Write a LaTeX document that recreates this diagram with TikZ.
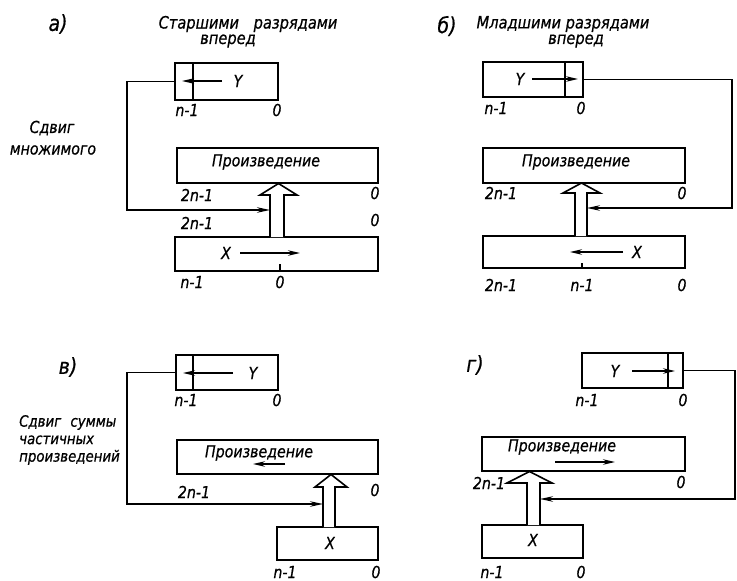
\documentclass[tikz,border=0pt]{standalone}
\usepackage{fontspec}
\setmainfont{DejaVu Sans}[FakeStretch=0.86,FakeBold=0.6]
\usetikzlibrary{arrows.meta,calc}

\tikzset{
  reg/.style={draw, line width=1.8pt, inner sep=0pt, outer sep=0pt},
  divider/.style={line width=1.6pt},
  lbl/.style={font=\fontsize{16.5}{16.5}\selectfont\itshape, inner sep=0pt},
  ttl/.style={font=\fontsize{17}{17}\selectfont\itshape, inner sep=0pt},
  paneltag/.style={font=\fontsize{22}{22}\selectfont\itshape, inner sep=0pt},
  wire/.style={line width=1.4pt},
  flow/.style={wire, -{Stealth[length=13pt,width=5.5pt]}},
  mover/.style={line width=1.4pt, -{Stealth[length=12pt,width=5.5pt]}},
  fat/.style={line width=1.6pt, fill=white, line join=miter},
}

\begin{document}
\begin{tikzpicture}[x=1pt,y=-1pt]
\useasboundingbox (0,0) rectangle (737,581);

% ---------------- a) ----------------
\node[paneltag] (tagA) at (58,24) {а)};
\node[ttl] (tA1) at (248,24) {Старшими\hspace{10pt} разрядами};
\node[ttl] (tA2) at (228,41) {вперед};

\node[reg, minimum width=103pt, minimum height=37pt] (ya) at (226.5,81.5) {};
\draw[divider] (193,63) -- (193,100);
\node[lbl] (yaY) at (238,81) {Y};
\draw[mover] (222,81) -- (182,81);
\node[lbl] (ya1) at (187,110) {n-1};
\node[lbl] (ya0) at (277,110) {0};

\node[reg, minimum width=201pt, minimum height=35pt] (pa) at (277.5,165.5) {};
\node[lbl] (paT) at (266,162) {Произведение};
\node[lbl] (pa1) at (197,195) {2n-1};
\node[lbl] (pa0) at (375,193) {0};

\node[lbl] (sa1) at (52,128) {Сдвиг};
\node[lbl] (sa2) at (53,150) {множимого};

\node[lbl] (ma1) at (197,223) {2n-1};
\node[lbl] (ma0) at (375,220) {0};

\node[reg, minimum width=203pt, minimum height=34pt] (xa) at (276.5,254) {};
\node[lbl] (xaX) at (226,253) {X};
\draw[mover] (240,253) -- (300,253);
\draw[wire] (280,264) -- (280,271);
\node[lbl] (xa1) at (192,282) {n-1};
\node[lbl] (xa0) at (280,282) {0};

\draw[fat] (270,237) -- (270,195) -- (260,195) -- (278.5,183.5) -- (297,195) -- (284,195) -- (284,237);
\coordinate (ina) at (270,210);
\draw[flow] (ya.west) -- ++(-48,0) |- (ina);

% ---------------- b) ----------------
\node[paneltag] (tagB) at (447,26) {б)};
\node[ttl] (tB1) at (563,24) {Младшими разрядами};
\node[ttl] (tB2) at (576,41) {вперед};

\node[reg, minimum width=100pt, minimum height=35pt] (yb) at (533,79.5) {};
\draw[divider] (565,62) -- (565,97);
\node[lbl] (ybY) at (520,79) {Y};
\draw[mover] (532,79) -- (578,79);
\node[lbl] (yb1) at (496,108) {n-1};
\node[lbl] (yb0) at (581,108) {0};

\node[reg, minimum width=202pt, minimum height=35pt] (pb) at (584,165.5) {};
\node[lbl] (pbT) at (576,162) {Произведение};
\node[lbl] (pb1) at (501,193) {2n-1};
\node[lbl] (pb0) at (682,193) {0};

\node[reg, minimum width=202pt, minimum height=32pt] (xb) at (584,252) {};
\node[lbl] (xbX) at (637,252) {X};
\draw[mover] (623,252) -- (570,252);
\draw[wire] (582,263) -- (582,268);
\node[lbl] (xb2) at (501,285) {2n-1};
\node[lbl] (xb1) at (582,285) {n-1};
\node[lbl] (xb0) at (682,285) {0};

\draw[fat] (575,236) -- (575,193) -- (563,193) -- (581.5,183) -- (600,193) -- (587,193) -- (587,236);
\coordinate (inb) at (587,208);
\draw[flow] (yb.east) -- ++(149,0) |- (inb);

% ---------------- c) ----------------
\node[paneltag] (tagC) at (68,367) {в)};

\node[reg, minimum width=102pt, minimum height=35pt] (yc) at (227,372.5) {};
\draw[divider] (193,355) -- (193,390);
\node[lbl] (ycY) at (253,373) {Y};
\draw[mover] (233,373) -- (183,373);
\node[lbl] (yc1) at (186,400) {n-1};
\node[lbl] (yc0) at (277,400) {0};

\node[lbl, font=\fontsize{15.5}{15.5}\selectfont\itshape, anchor=west, align=left] (sc) at (19,440)
  {Сдвиг\hspace{5pt} суммы\\[2pt]частичных\\[2pt]произведений};

\node[reg, minimum width=201pt, minimum height=34pt] (pc) at (277.5,457) {};
\node[lbl] (pcT) at (259,453) {Произведение};
\draw[mover] (285,464) -- (253,464);
\node[lbl] (pc1) at (194,492) {2n-1};
\node[lbl] (pc0) at (375,490) {0};

\node[reg, minimum width=101pt, minimum height=33pt] (xc) at (327.5,543.5) {};
\node[lbl] (xcX) at (330,543) {X};
\node[lbl] (xc1) at (285,572) {n-1};
\node[lbl] (xc0) at (376,572) {0};

\draw[fat] (323,527) -- (323,487) -- (315,487) -- (331,474.5) -- (347,487) -- (335,487) -- (335,527);
\coordinate (inc) at (323,504);
\draw[flow] (yc.west) -- ++(-49,0) |- (inc);

% ---------------- d) ----------------
\node[paneltag] (tagD) at (475,365) {г)};

\node[reg, minimum width=101pt, minimum height=35pt] (yd) at (632.5,370.5) {};
\draw[divider] (668,353) -- (668,388);
\node[lbl] (ydY) at (615,371) {Y};
\draw[mover] (632,371) -- (675,371);
\node[lbl] (yd1) at (587,400) {n-1};
\node[lbl] (yd0) at (683,400) {0};

\node[reg, minimum width=203pt, minimum height=34pt] (pd) at (583.5,454) {};
\node[lbl] (pdT) at (562,447) {Произведение};
\draw[mover] (555,462) -- (615,462);
\node[lbl] (pd1) at (489,483) {2n-1};
\node[lbl] (pd0) at (681,482) {0};

\node[reg, minimum width=101pt, minimum height=33pt] (xd) at (532.5,541.5) {};
\node[lbl] (xdX) at (533,540) {X};
\node[lbl] (xd1) at (492,572) {n-1};
\node[lbl] (xd0) at (581,572) {0};

\draw[fat] (527,525) -- (527,483) -- (507,483) -- (529.5,471.5) -- (552,483) -- (540,483) -- (540,525);
\coordinate (ind) at (540,499);
\draw[flow] (yd.east) -- ++(52,0) |- (ind);

\end{tikzpicture}
\end{document}
